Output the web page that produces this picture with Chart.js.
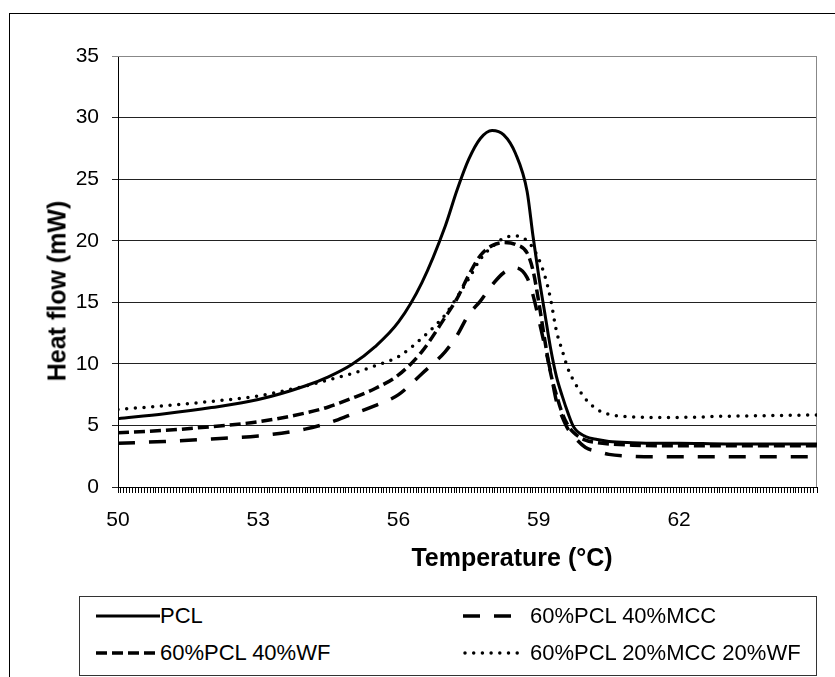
<!DOCTYPE html>
<html lang="en">
<head>
<meta charset="UTF-8">
<title>Heat flow vs temperature</title>
<script src="https://cdn.jsdelivr.net/npm/chart.js"></script>
<style>
    html, body { margin: 0; padding: 0; background: #fff; }
    body { width: 835px; height: 677px; position: relative; overflow: hidden; font-family: "Liberation Sans", Arial, sans-serif; }
    .frame { position: absolute; left: 9px; top: 13px; width: 900px; height: 700px; border: 1px solid #000; }
    #dscChart { position: absolute; left: 0; top: 0; }
    .axis-title { position: absolute; font-size: 25px; font-weight: bold; color: #000; white-space: nowrap; line-height: 1; }
    #xTitle { left: 512px; top: 557px; transform: translate(-50%, -50%); }
    #yTitle { left: 57px; top: 291px; transform: translate(-50%, -50%) rotate(-90deg); }
    .legend-box { position: absolute; left: 79px; top: 596px; width: 736px; height: 78px; border: 1px solid #333; }
    .legend-item { position: absolute; display: flex; align-items: center; font-size: 22px; color: #000; height: 26px; white-space: nowrap; }
    .legend-item svg { display: block; }
</style>
</head>
<body>
<div class="frame"></div>
<canvas id="dscChart" width="835" height="590"></canvas>
<div class="axis-title" id="xTitle">Temperature (°C)</div>
<div class="axis-title" id="yTitle">Heat flow (mW)</div>
<div class="legend-box" id="legend"></div>

<script>
// temperature (°C) and heat flow (mW)
const temperature = [50, 51, 52, 53, 54, 54.5, 55, 55.5, 56, 56.5, 57, 57.25, 57.5, 57.75, 58, 58.25, 58.5, 58.75, 58.875, 59, 59.125, 59.25, 59.375, 59.5, 59.625, 59.75, 60, 60.25, 60.5, 61, 61.5, 62, 63, 64, 65];
const pcl      = [5.55, 5.95, 6.45, 7.1, 8.2, 8.95, 9.95, 11.4, 13.4, 16.6, 21.2, 24.1, 26.6, 28.3, 28.95, 28.6, 27.1, 24.0, 20.4, 17.1, 14.2, 11.3, 9.0, 7.4, 6.0, 4.85, 4.1, 3.85, 3.7, 3.6, 3.55, 3.55, 3.5, 3.5, 3.5];
const pclMcc   = [3.55, 3.7, 3.9, 4.15, 4.7, 5.2, 5.9, 6.6, 7.5, 9.2, 11.0, 12.3, 14.0, 15.1, 16.4, 17.4, 17.8, 17.0, 15.6, 13.6, 11.5, 9.4, 7.0, 5.7, 4.7, 4.1, 3.2, 2.9, 2.65, 2.5, 2.45, 2.45, 2.45, 2.45, 2.45];
const pclWf    = [4.4, 4.6, 4.9, 5.3, 6.0, 6.5, 7.2, 8.0, 9.1, 11.0, 13.8, 15.3, 17.2, 18.8, 19.6, 19.85, 19.7, 19.0, 17.6, 15.0, 12.0, 9.3, 7.5, 6.0, 5.0, 4.4, 3.8, 3.6, 3.5, 3.4, 3.35, 3.35, 3.35, 3.35, 3.35];
const pclMccWf = [6.3, 6.6, 6.95, 7.4, 8.2, 8.7, 9.2, 9.85, 10.6, 12.1, 14.0, 15.4, 16.9, 18.5, 19.5, 20.2, 20.4, 20.0, 19.4, 18.5, 17.2, 15.3, 12.7, 11.1, 9.6, 8.6, 7.15, 6.3, 5.9, 5.7, 5.65, 5.65, 5.75, 5.8, 5.85];

const seriesNames = ['PCL', '60%PCL 40%MCC', '60%PCL 40%WF', '60%PCL 20%MCC 20%WF'];
const xTickLabels = [50, 53, 56, 59, 62];
const yTickLabels = [0, 5, 10, 15, 20, 25, 30, 35];

// line looks: solid, long dash, short dash, dots
const lineStyles = [
    { width: 3, dash: [], cap: 'butt' },
    { width: 3.5, dash: [17, 14], cap: 'butt' },
    { width: 3.5, dash: [11, 5], cap: 'butt' },
    { width: 3.5, dash: [0, 8.7], cap: 'round' }
];

function toPoints(values) {
    return values.map((v, i) => ({ x: temperature[i], y: v }));
}

const plotFrame = {
    id: 'plotFrame',
    beforeDatasetsDraw(chart) {
        const { ctx, chartArea: a } = chart;
        ctx.save();
        ctx.strokeStyle = '#888';
        ctx.lineWidth = 1;
        ctx.beginPath();
        ctx.moveTo(a.left, a.top + 0.5);
        ctx.lineTo(a.right - 0.5, a.top + 0.5);
        ctx.lineTo(a.right - 0.5, a.bottom);
        ctx.stroke();
        ctx.restore();
    }
};

const allSeries = [pcl, pclMcc, pclWf, pclMccWf];

new Chart(document.getElementById('dscChart'), {
    type: 'line',
    data: {
        datasets: allSeries.map((vals, i) => ({
            label: seriesNames[i],
            data: toPoints(vals),
            borderColor: '#000',
            borderWidth: lineStyles[i].width,
            borderDash: lineStyles[i].dash,
            borderCapStyle: lineStyles[i].cap,
            pointRadius: 0,
            cubicInterpolationMode: 'monotone',
            fill: false
        }))
    },
    options: {
        responsive: false,
        animation: false,
        devicePixelRatio: 1,
        layout: { padding: { left: 0, top: 56, right: 18, bottom: 0 } },
        plugins: {
            legend: { display: false },
            tooltip: { enabled: false }
        },
        scales: {
            x: {
                type: 'linear',
                min: 50,
                max: 64.95,
                afterFit: (s) => { s.height = 103; },
                border: { color: '#000', width: 1 },
                grid: { drawOnChartArea: false, drawTicks: true, tickLength: 6, color: '#000' },
                ticks: {
                    stepSize: 0.0625,
                    autoSkip: false,
                    maxRotation: 0,
                    padding: 15,
                    color: '#000',
                    font: { family: 'Liberation Sans', size: 21 },
                    callback: (v) => xTickLabels.includes(v) ? String(v) : ''
                }
            },
            y: {
                min: 0,
                max: 35,
                afterFit: (s) => { s.width = 118; },
                border: { color: '#000', width: 1 },
                grid: {
                    color: (c) => c.tick && c.tick.value === 35 ? '#888' : '#222',
                    tickLength: 6
                },
                ticks: {
                    stepSize: 5,
                    padding: 13,
                    color: '#000',
                    font: { family: 'Liberation Sans', size: 21 },
                    callback: (v) => yTickLabels.includes(v) ? String(v) : ''
                }
            }
        }
    },
    plugins: [plotFrame]
});

// legend drawn as HTML, two columns
const legendSpots = [
    { left: 16, top: 6, sampleW: 64, gap: 0 },
    { left: 383, top: 6, sampleW: 52, gap: 15 },
    { left: 16, top: 43, sampleW: 64, gap: 0 },
    { left: 383, top: 43, sampleW: 62, gap: 5 }
];
const legendEl = document.getElementById('legend');
seriesNames.forEach((name, i) => {
    const st = lineStyles[i];
    const spot = legendSpots[i];
    const item = document.createElement('div');
    item.className = 'legend-item';
    item.style.left = spot.left + 'px';
    item.style.top = spot.top + 'px';
    const dash = st.dash.length ? st.dash.join(' ') : 'none';
    item.innerHTML =
        '<svg width="' + (spot.sampleW + spot.gap) + '" height="12">' +
        '<line x1="' + (st.cap === 'round' ? 2 : 0) + '" y1="6" x2="' + spot.sampleW + '" y2="6" stroke="#000" stroke-width="' + st.width +
        '" stroke-dasharray="' + dash + '" stroke-linecap="' + st.cap + '"/></svg>' +
        '<span>' + name + '</span>';
    legendEl.appendChild(item);
});
</script>
</body>
</html>
